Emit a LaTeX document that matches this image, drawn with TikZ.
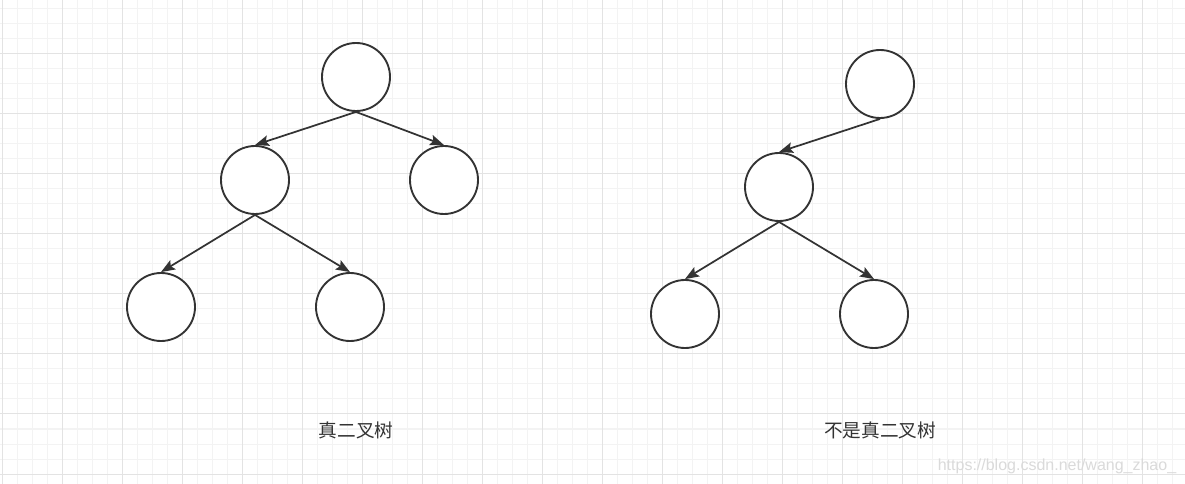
\documentclass[tikz,border=0pt]{standalone}
\usepackage{fontspec}
\setsansfont{Liberation Sans}
\newfontfamily\cjk{Noto Sans CJK SC}
\usetikzlibrary{arrows.meta}

\definecolor{linegray}{RGB}{51,51,51}
\definecolor{gridminor}{RGB}{243,243,243}
\definecolor{gridmajor}{RGB}{227,227,227}
\definecolor{markgray}{RGB}{218,218,218}

\begin{document}
\begin{tikzpicture}[x=0.75pt,y=0.75pt,yscale=-1,
	treenode/.style={circle,draw=linegray,line width=1.4pt,fill=white,minimum size=51pt,inner sep=0pt},
	treeedge/.style={draw=linegray,line width=1.3pt,-{Stealth[length=10.5pt,width=8pt,inset=2pt]}},
	caption/.style={font=\cjk\fontsize{14pt}{16pt}\selectfont,text=linegray}]
	\useasboundingbox (0,0) rectangle (1185,484);
	\fill[white] (0,0) rectangle (1185,484);
	
	%Grid
	\foreach \gx in {2,17,...,1184} \draw[gridminor,line width=0.75pt] (\gx,0) -- (\gx,484);
	\foreach \gy in {9,24,...,484} \draw[gridminor,line width=0.75pt] (0,\gy) -- (1185,\gy);
	\foreach \gx in {2,62,...,1184} \draw[gridmajor,line width=0.75pt] (\gx,0) -- (\gx,484);
	\foreach \gy in {54,114,...,484} \draw[gridmajor,line width=0.75pt] (0,\gy) -- (1185,\gy);
	
	%Proper binary tree
	\node[treenode] (root) at (356,77) {};
	\node[treenode] (left) at (255,180) {};
	\node[treenode] (right) at (444,180) {};
	\node[treenode] (leftleft) at (161,307) {};
	\node[treenode] (leftright) at (350,307) {};
	\draw[treeedge] (root.south) -- (left.north);
	\draw[treeedge] (root.south) -- (right.north);
	\draw[treeedge] (left.south) -- (leftleft.north);
	\draw[treeedge] (left.south) -- (leftright.north);
	
	%Not a proper binary tree
	\node[treenode] (top) at (880,84) {};
	\node[treenode] (mid) at (779,187) {};
	\node[treenode] (midleft) at (685,314) {};
	\node[treenode] (midright) at (874,314) {};
	\draw[treeedge] (top.south) -- (mid.north);
	\draw[treeedge] (mid.south) -- (midleft.north);
	\draw[treeedge] (mid.south) -- (midright.north);
	
	% Text Node
	\node[caption] (captionleft) at (356,430) {真二叉树};
	% Text Node
	\node[caption] (captionright) at (880,430) {不是真二叉树};
	% Text Node
	\node[font=\sffamily\fontsize{12pt}{14pt}\selectfont,text=markgray] (watermark) at (1057,466) {https://blog.csdn.net/wang\_zhao\_};
\end{tikzpicture}
\end{document}
